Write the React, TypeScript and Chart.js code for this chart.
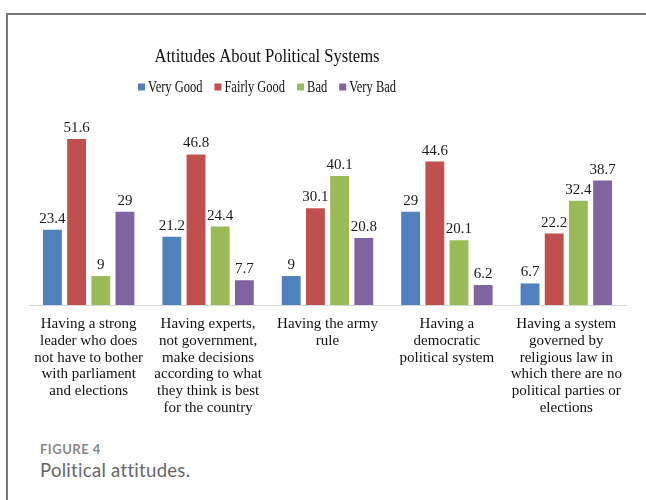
import React, { useEffect, useRef } from "react";
import { Chart, registerables } from "chart.js";

Chart.register(...registerables);

const categories: string[][] = [
  ["Having a strong", "leader who does", "not have to bother", "with parliament", "and elections"],
  ["Having experts,", "not government,", "make decisions", "according to what", "they think is best", "for the country"],
  ["Having the army", "rule"],
  ["Having a", "democratic", "political system"],
  ["Having a system", "governed by", "religious law in", "which there are no", "political parties or", "elections"],
];

const seriesNames = ["Very Good", "Fairly Good", "Bad", "Very Bad"];
const veryGood = [23.4, 21.2, 9, 29, 6.7];
const fairlyGood = [51.6, 46.8, 30.1, 44.6, 22.2];
const bad = [9, 24.4, 40.1, 20.1, 32.4];
const veryBad = [29, 7.7, 20.8, 6.2, 38.7];
const seriesColors = ["#4F81BD", "#C0504D", "#9BBB59", "#8064A2"];

const chartTitle = "Attitudes About Political Systems";

const SERIF = "'Liberation Serif', 'Times New Roman', serif";

const titleLegendPlugin = {
  id: "titleLegend",
  afterDraw(chart: any) {
    const ctx = chart.ctx as CanvasRenderingContext2D;
    const cx = 267;
    ctx.save();
    ctx.font = `18.5px ${SERIF}`;
    ctx.fillStyle = "#111";
    ctx.textBaseline = "middle";
    ctx.textAlign = "left";
    const tw = ctx.measureText(chartTitle).width;
    const sx = 225 / tw;
    ctx.translate(cx - 225 / 2, 57);
    ctx.scale(sx, 1);
    ctx.fillText(chartTitle, 0, 0);
    ctx.restore();

    ctx.save();
    ctx.font = `16px ${SERIF}`;
    const lsx = 0.78;
    const box = 7;
    const boxGap = 3;
    const itemGap = 12;
    const datasets = chart.data.datasets;
    const widths = datasets.map((d: any) => ctx.measureText(d.label).width * lsx);
    const total =
      widths.reduce((a: number, b: number) => a + b, 0) +
      datasets.length * (box + boxGap) +
      (datasets.length - 1) * itemGap;
    let x = cx - total / 2;
    const y = 87;
    datasets.forEach((d: any, i: number) => {
      ctx.fillStyle = d.backgroundColor;
      ctx.fillRect(x, y - box / 2, box, box);
      x += box + boxGap;
      ctx.save();
      ctx.translate(x, y);
      ctx.scale(lsx, 1);
      ctx.fillStyle = "#111";
      ctx.textBaseline = "middle";
      ctx.textAlign = "left";
      ctx.fillText(d.label, 0, 1);
      ctx.restore();
      x += widths[i] + itemGap;
    });
    ctx.restore();
  },
};

const valueLabelPlugin = {
  id: "valueLabels",
  afterDatasetsDraw(chart: any) {
    const ctx = chart.ctx as CanvasRenderingContext2D;
    ctx.save();
    ctx.font = `15px ${SERIF}`;
    ctx.fillStyle = "#1a1a1a";
    ctx.textAlign = "center";
    ctx.textBaseline = "alphabetic";
    chart.data.datasets.forEach((ds: any, di: number) => {
      const meta = chart.getDatasetMeta(di);
      meta.data.forEach((bar: any, i: number) => {
        ctx.fillText(String(ds.data[i]), bar.x, bar.y - 7);
      });
    });
    ctx.restore();
  },
};

export default function App() {
  const ref = useRef<HTMLCanvasElement>(null);

  useEffect(() => {
    document.body.style.margin = "0";
    if (!ref.current) return;
    const seriesData = [veryGood, fairlyGood, bad, veryBad];
    const chart = new Chart(ref.current, {
      type: "bar",
      data: {
        labels: categories,
        datasets: seriesNames.map((name, i) => ({
          label: name,
          data: seriesData[i],
          backgroundColor: seriesColors[i],
          borderWidth: 0,
          categoryPercentage: 0.81,
          barPercentage: 0.78,
        })),
      },
      options: {
        responsive: false,
        animation: false,
        layout: { padding: { left: 29, right: 20, top: 112, bottom: 0 } },
        plugins: {
          legend: { display: false },
          title: { display: false },
          tooltip: { enabled: false },
        },
        scales: {
          x: {
            grid: { display: false, drawTicks: false },
            border: { display: true, color: "#d9d9d9", width: 1 },
            ticks: {
              color: "#111",
              font: { family: SERIF, size: 15, lineHeight: 1.11 },
              padding: 11,
              maxRotation: 0,
              autoSkip: false,
            },
            afterFit: (scale: any) => {
              scale.height = 115;
            },
          },
          y: {
            display: false,
            min: 0,
            max: 60,
          },
        },
      },
      plugins: [titleLegendPlugin, valueLabelPlugin],
    });
    return () => chart.destroy();
  }, []);

  return (
    <div style={{ position: "relative", width: 646, height: 500, overflow: "hidden", background: "#fff" }}>
      <div
        style={{
          position: "absolute",
          left: 6,
          top: 13,
          right: -10,
          bottom: -10,
          borderTop: "2px solid #777",
          borderLeft: "2px solid #777",
        }}
      />
      <canvas ref={ref} width={646} height={420} style={{ position: "absolute", left: 0, top: 0, display: "block" }} />
      <div
        style={{
          position: "absolute",
          left: 40,
          top: 441,
          fontFamily: "Lato, 'Open Sans', sans-serif",
          fontWeight: 700,
          fontSize: 13,
          letterSpacing: 0.5,
          color: "#888",
          lineHeight: "16px",
        }}
      >
        FIGURE 4
      </div>
      <div
        style={{
          position: "absolute",
          left: 40,
          top: 459,
          fontFamily: "Lato, 'Open Sans', sans-serif",
          fontWeight: 400,
          fontSize: 18.5,
          letterSpacing: 0.3,
          color: "#666",
          lineHeight: "22px",
        }}
      >
        Political attitudes.
      </div>
    </div>
  );
}
